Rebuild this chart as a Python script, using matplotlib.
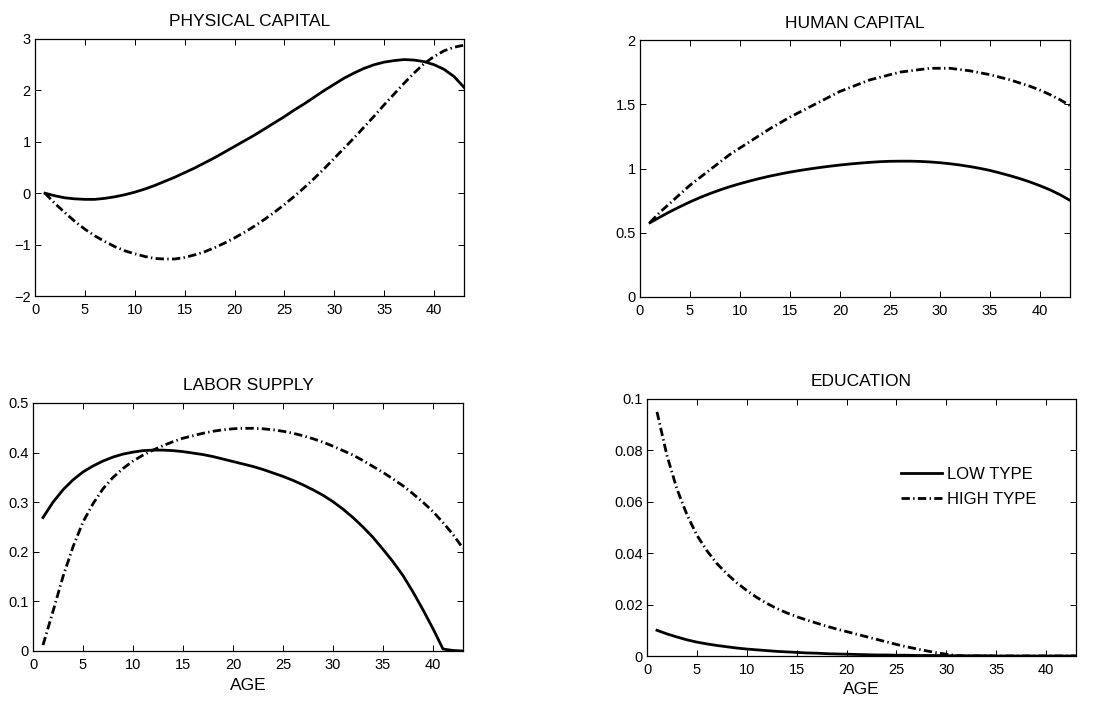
import numpy as np
import matplotlib
matplotlib.use("Agg")
import matplotlib.pyplot as plt
from matplotlib import font_manager

# life-cycle profiles by age, low vs high type
age = list(range(1, 44))

phys_low = [0.00, -0.05, -0.09, -0.11, -0.12, -0.12, -0.10, -0.07, -0.03, 0.02,
            0.08, 0.15, 0.23, 0.31, 0.40, 0.49, 0.59, 0.69, 0.80, 0.91,
            1.02, 1.13, 1.25, 1.37, 1.49, 1.62, 1.74, 1.87, 2.00, 2.12,
            2.24, 2.34, 2.43, 2.50, 2.55, 2.58, 2.60, 2.59, 2.56, 2.50,
            2.41, 2.27, 2.06]
phys_high = [0.00, -0.20, -0.38, -0.55, -0.70, -0.83, -0.94, -1.04, -1.12, -1.18,
             -1.23, -1.27, -1.28, -1.28, -1.25, -1.20, -1.14, -1.06, -0.97, -0.87,
             -0.76, -0.64, -0.51, -0.37, -0.22, -0.06, 0.11, 0.29, 0.48, 0.68,
             0.88, 1.08, 1.29, 1.50, 1.72, 1.93, 2.14, 2.34, 2.52, 2.66,
             2.77, 2.84, 2.88]

human_low = [0.578, 0.622, 0.664, 0.703, 0.740, 0.774, 0.805, 0.833, 0.859, 0.882,
             0.903, 0.923, 0.941, 0.957, 0.972, 0.985, 0.997, 1.008, 1.018, 1.027,
             1.035, 1.042, 1.048, 1.053, 1.056, 1.057, 1.057, 1.055, 1.051, 1.045,
             1.037, 1.027, 1.015, 1.001, 0.985, 0.965, 0.944, 0.921, 0.895, 0.866,
             0.834, 0.796, 0.752]
human_high = [0.58, 0.66, 0.73, 0.80, 0.87, 0.93, 0.99, 1.05, 1.11, 1.16,
              1.21, 1.26, 1.31, 1.355, 1.40, 1.44, 1.48, 1.52, 1.56, 1.60,
              1.63, 1.66, 1.69, 1.71, 1.73, 1.75, 1.76, 1.77, 1.78, 1.78,
              1.78, 1.77, 1.76, 1.745, 1.73, 1.71, 1.69, 1.665, 1.64, 1.61,
              1.575, 1.535, 1.49]

labor_low = [0.269, 0.300, 0.325, 0.345, 0.361, 0.373, 0.383, 0.391, 0.397, 0.401,
             0.404, 0.405, 0.405, 0.404, 0.402, 0.399, 0.396, 0.392, 0.387, 0.382,
             0.377, 0.372, 0.366, 0.359, 0.352, 0.344, 0.335, 0.325, 0.314, 0.301,
             0.286, 0.269, 0.250, 0.229, 0.205, 0.180, 0.152, 0.119, 0.083, 0.045,
             0.004, 0.001, 0.000]
labor_high = [0.012, 0.080, 0.150, 0.210, 0.260, 0.297, 0.327, 0.350, 0.368, 0.383,
              0.395, 0.405, 0.414, 0.422, 0.429, 0.434, 0.439, 0.443, 0.446, 0.448,
              0.449, 0.449, 0.448, 0.446, 0.443, 0.439, 0.434, 0.428, 0.421, 0.413,
              0.404, 0.395, 0.384, 0.372, 0.360, 0.347, 0.333, 0.317, 0.300, 0.281,
              0.259, 0.235, 0.207]

educ_low = [0.0100, 0.0086, 0.0074, 0.0063, 0.0054, 0.0047, 0.0041, 0.0036, 0.0031, 0.0027,
            0.0024, 0.0021, 0.0018, 0.0016, 0.0014, 0.0012, 0.0011, 0.0009, 0.0008, 0.0007,
            0.0006, 0.0005, 0.0004, 0.0004, 0.0003, 0.0003, 0.0002, 0.0002, 0.0002, 0.0001,
            0.0001, 0.0001, 0.0001, 0.0001, 0.0, 0.0, 0.0, 0.0, 0.0, 0.0,
            0.0, 0.0, 0.0]
educ_high = [0.095, 0.078, 0.065, 0.055, 0.047, 0.041, 0.036, 0.032, 0.0285, 0.0255,
             0.0228, 0.0205, 0.0185, 0.0168, 0.0153, 0.0140, 0.0128, 0.0116, 0.0105, 0.0095,
             0.0085, 0.0075, 0.0065, 0.0055, 0.0045, 0.0036, 0.0028, 0.0020, 0.0013, 0.0007,
             0.0002, 0.0, 0.0, 0.0, 0.0, 0.0, 0.0, 0.0, 0.0, 0.0,
             0.0, 0.0, 0.0]

x_ticks = [0, 5, 10, 15, 20, 25, 30, 35, 40]
titles = ["PHYSICAL CAPITAL", "HUMAN CAPITAL", "LABOR SUPPLY", "EDUCATION"]
y_ticks = [[-2, -1, 0, 1, 2, 3], [0, 0.5, 1, 1.5, 2],
           [0, 0.1, 0.2, 0.3, 0.4, 0.5], [0, 0.02, 0.04, 0.06, 0.08, 0.1]]
y_ticklabels = [["\u22122", "\u22121", "0", "1", "2", "3"],
                ["0", "0.5", "1", "1.5", "2"],
                ["0", "0.1", "0.2", "0.3", "0.4", "0.5"],
                ["0", "0.02", "0.04", "0.06", "0.08", "0.1"]]
series = [(phys_low, phys_high), (human_low, human_high),
          (labor_low, labor_high), (educ_low, educ_high)]

# axes boxes in pixels: left, right, top, bottom
W, H = 1108, 703
boxes = [(35, 464, 39, 296), (640, 1070, 40, 297),
         (33, 463, 403, 651), (647, 1076, 399, 656)]

plt.rcParams['font.family'] = ['Liberation Sans', 'DejaVu Sans']

# condensed digits for tick labels when the narrow face is around
installed = {f.name for f in font_manager.fontManager.ttflist}
if 'Liberation Sans Narrow' in installed:
    tick_font, tick_size = ['Liberation Sans Narrow', 'DejaVu Sans'], 12
else:
    tick_font, tick_size = ['Liberation Sans', 'DejaVu Sans'], 10.5

fig = plt.figure(figsize=(W / 100, H / 100), dpi=100)
dashdot = (0, (3.0, 1.2, 0.5, 1.2))

for i, (l, r, t, b) in enumerate(boxes):
    ax = fig.add_axes([l / W, (H - b) / H, (r - l) / W, (b - t) / H])
    low, high = series[i]
    ax.plot(age, low, color='black', lw=2.0, label='LOW TYPE')
    ax.plot(age, high, color='black', lw=2.0, linestyle=dashdot, label='HIGH TYPE')
    ax.set_xlim(0, 43)
    ax.set_ylim(y_ticks[i][0], y_ticks[i][-1])
    ax.set_xticks(x_ticks)
    ax.set_xticklabels([str(v) for v in x_ticks], family=tick_font, fontsize=tick_size)
    ax.set_yticks(y_ticks[i])
    ax.set_yticklabels(y_ticklabels[i], family=tick_font, fontsize=tick_size)
    ax.tick_params(direction='in', length=4, width=0.7, top=True, right=True)
    ax.tick_params(axis='x', pad=5)
    ax.tick_params(axis='y', pad=3)
    for sp in ax.spines.values():
        sp.set_linewidth(0.9)
    ax.set_title(titles[i], fontsize=12.5, pad=9)
    if i >= 2:
        ax.set_xlabel("AGE", fontsize=12.5, labelpad=4)
    if i == 3:
        ax.legend(loc='upper left', bbox_to_anchor=(0.592, 0.735), frameon=False,
                  fontsize=12, handlelength=2.45, handletextpad=0.3,
                  labelspacing=0.6, borderpad=0, borderaxespad=0)

fig.savefig("out.png", dpi=100)
